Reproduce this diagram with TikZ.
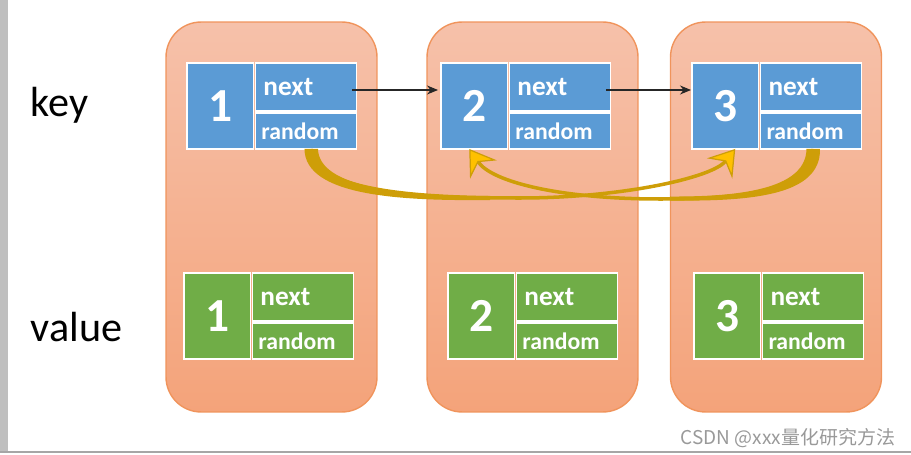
\documentclass[tikz,border=0pt]{standalone}
\usepackage{fontspec}
\setmainfont{Carlito}
\newfontfamily\cjkfont{Noto Sans CJK SC}
\usetikzlibrary{arrows.meta,positioning,calc}
\definecolor{keyblue}{RGB}{91,155,213}
\definecolor{valgreen}{RGB}{112,173,71}
\definecolor{coltop}{RGB}{246,193,170}
\definecolor{colbottom}{RGB}{244,163,122}
\definecolor{coledge}{RGB}{240,148,92}
\definecolor{randgold}{RGB}{206,158,8}
\definecolor{headgold}{RGB}{255,192,0}

\begin{document}
\begin{tikzpicture}[
    x=0.02cm, y=-0.02cm,
    every node/.style={inner sep=0pt, outer sep=0pt},
    colbox/.style={rectangle, rounded corners=0.7cm, draw=coledge, line width=0.8pt, top color=coltop, bottom color=colbottom, minimum width=4.22cm, minimum height=7.8cm},
    numbox/.style={rectangle, draw=white, line width=1pt, minimum width=1.33cm, minimum height=1.72cm, text=white, font=\fontsize{27}{27}\selectfont\bfseries},
    nextbox/.style={rectangle, draw=white, line width=1pt, inner xsep=0.16cm, text width=1.70cm, align=left, minimum height=0.96cm, text=white, font=\fontsize{15.5}{16}\selectfont\bfseries},
    randbox/.style={rectangle, draw=white, line width=1pt, inner xsep=0.12cm, text width=1.78cm, align=left, minimum height=0.72cm, text=white, font=\fontsize{13.5}{14}\selectfont\bfseries},
    rowlabel/.style={font=\fontsize{24}{25}\selectfont, anchor=base west},
    nextarr/.style={-{Stealth[length=2.2mm,width=1.8mm]}, line width=0.6pt, draw=black!85},
    randarr/.style={-{Stealth[length=5mm,width=6.5mm,inset=1.8mm,line width=0.7pt,fill=headgold]}, draw=randgold, line width=2pt}
]
\useasboundingbox (0,0) rectangle (911,455);

% screenshot edges
\fill[gray!50] (0,0) rectangle (8,452);
\draw[gray!70, line width=1pt] (0,452) -- (911,452);

% columns
\node[colbox] (col1) at (271.5,217) {};
\node[colbox] (col2) at (532.5,217) {};
\node[colbox] (col3) at (776,217) {};

% row labels
\node[rowlabel] (keylbl) at (31,117) {key};
\node[rowlabel] (vallbl) at (31,341) {value};

% key row
\node[numbox, fill=keyblue, anchor=north west] (k1num) at (187,63) {1};
\node[nextbox, fill=keyblue, right=0.04cm of k1num.north east, anchor=north west] (k1next) {next};
\node[randbox, fill=keyblue, below=0.04cm of k1next.south west, anchor=north west] (k1rand) {random};

\node[numbox, fill=keyblue, anchor=north west] (k2num) at (441,63) {2};
\node[nextbox, fill=keyblue, right=0.04cm of k2num.north east, anchor=north west] (k2next) {next};
\node[randbox, fill=keyblue, below=0.04cm of k2next.south west, anchor=north west] (k2rand) {random};

\node[numbox, fill=keyblue, anchor=north west] (k3num) at (692,63) {3};
\node[nextbox, fill=keyblue, right=0.04cm of k3num.north east, anchor=north west] (k3next) {next};
\node[randbox, fill=keyblue, below=0.04cm of k3next.south west, anchor=north west] (k3rand) {random};

% value row
\node[numbox, fill=valgreen, anchor=north west] (v1num) at (184,273) {1};
\node[nextbox, fill=valgreen, right=0.04cm of v1num.north east, anchor=north west] (v1next) {next};
\node[randbox, fill=valgreen, below=0.04cm of v1next.south west, anchor=north west] (v1rand) {random};

\node[numbox, fill=valgreen, anchor=north west] (v2num) at (448,273) {2};
\node[nextbox, fill=valgreen, right=0.04cm of v2num.north east, anchor=north west] (v2next) {next};
\node[randbox, fill=valgreen, below=0.04cm of v2next.south west, anchor=north west] (v2rand) {random};

\node[numbox, fill=valgreen, anchor=north west] (v3num) at (694,273) {3};
\node[nextbox, fill=valgreen, right=0.04cm of v3num.north east, anchor=north west] (v3next) {next};
\node[randbox, fill=valgreen, below=0.04cm of v3next.south west, anchor=north west] (v3rand) {random};

% next pointers
\draw[nextarr] ($(k1next.east)+(-4,3)$) -- ($(k1next.east -| k2num.west)+(-3,3)$);
\draw[nextarr] ($(k2next.east)+(-4,3)$) -- ($(k2next.east -| k3num.west)+(-1,3)$);

% random pointers
\fill[randgold] ($(k1rand.south)+(-1.5,0)$) .. controls (305,196) and (400,201) .. (490,200)
    -- (490,196) .. controls (400,196) and (319,187) .. ($(k1rand.south)+(12,0)$) -- cycle;
\draw[randarr] ($(k1rand.south)+(5,0)$) .. controls (314,192) and (420,198) .. (520,198)
    .. controls (620,198) and (712,178) .. ($(k3num.south)+(10,0)$);

\fill[randgold] ($(k3rand.south)+(9,0)$) .. controls (821,196) and (750,201.5) .. (670,200.5)
    -- (670,196.5) .. controls (750,197) and (806,186) .. ($(k3rand.south)+(-4.5,0)$) -- cycle;
\draw[randarr] ($(k3rand.south)+(2,0)$) .. controls (812,190) and (750,199) .. (660,199)
    .. controls (560,199) and (492,182) .. ($(k2num.south)+(-5,0)$);

% watermark
\node[font=\cjkfont\fontsize{10.8}{12}\selectfont, text=gray!80, anchor=base east] (mark) at (895,444) {CSDN @xxx量化研究方法};

\end{tikzpicture}
\end{document}
